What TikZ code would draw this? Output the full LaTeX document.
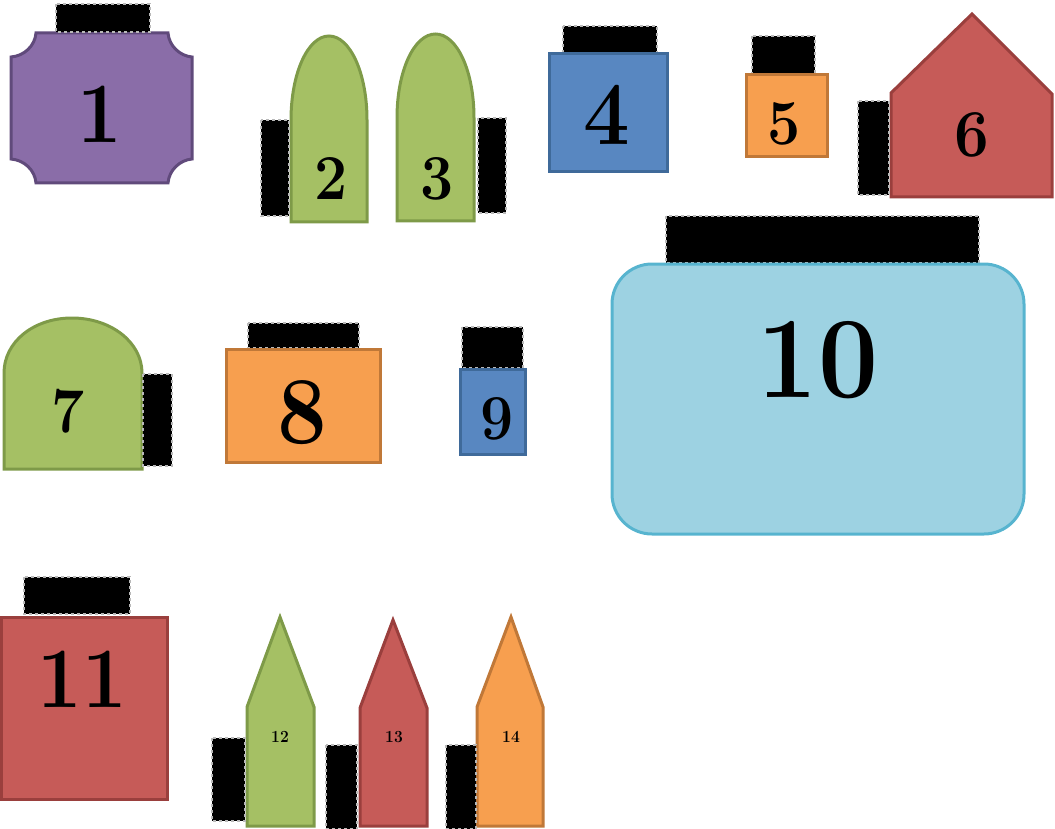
\documentclass[tikz,border=0pt]{standalone}
\newcommand\lblsize[1]{\fontsize{#1}{#1}\selectfont}
\newcommand\narrow[1]{\scalebox{0.92}[1]{#1}}
\definecolor{purpfill}{HTML}{8A6DA8}
\definecolor{purpdraw}{HTML}{604A7B}
\definecolor{grnfill}{HTML}{A5C064}
\definecolor{grndraw}{HTML}{7E9A48}
\definecolor{bluefill}{HTML}{5887C1}
\definecolor{bluedraw}{HTML}{3F6A9A}
\definecolor{orgfill}{HTML}{F79F4F}
\definecolor{orgdraw}{HTML}{C07838}
\definecolor{redfill}{HTML}{C65B58}
\definecolor{reddraw}{HTML}{9A3F3D}
\definecolor{lbfill}{HTML}{9DD2E2}
\definecolor{lbdraw}{HTML}{57B4CF}
\tikzset{
  shapebase/.style={line width=3pt, line join=miter},
  purpshape/.style={shapebase, fill=purpfill, draw=purpdraw},
  grnshape/.style={shapebase, fill=grnfill, draw=grndraw},
  blueshape/.style={shapebase, fill=bluefill, draw=bluedraw},
  orgshape/.style={shapebase, fill=orgfill, draw=orgdraw},
  redshape/.style={shapebase, fill=redfill, draw=reddraw},
  lbshape/.style={shapebase, fill=lbfill, draw=lbdraw},
  blackbox/.style={fill=black, draw=gray!55, line width=1.5pt, dash pattern=on 3pt off 3pt},
  lbl/.style={inner sep=0pt, text=black}
}
\begin{document}
\begin{tikzpicture}[x=1pt,y=-1pt]
\useasboundingbox (0,0) rectangle (1055,829);
% shape 1
\path[purpshape] (36,33) -- (168,33) .. controls (169,46) and (180,56) .. (192,57)
  -- (192,159) .. controls (180,160) and (169,170) .. (168,183)
  -- (36,183) .. controls (35,170) and (24,160) .. (11,159)
  -- (11,57) .. controls (24,56) and (35,46) .. (36,33) -- cycle;
\path[blackbox] (56,4) rectangle (150,32);
\node[lbl, font=\bfseries\lblsize{86}] (n1) at (100,114) {\narrow{1}};
% shape 2
\path[grnshape] (291,222) -- (291,120) .. controls (291,73) and (308,36) .. (329,36)
  .. controls (350,36) and (367,73) .. (367,120) -- (367,222) -- cycle;
\path[blackbox] (261,120) rectangle (289,216);
\node[lbl, font=\bfseries\lblsize{64}] (n2) at (331,179) {\narrow{2}};
% shape 3
\path[grnshape] (397,221) -- (397,118) .. controls (397,71) and (414,34) .. (435.5,34)
  .. controls (457,34) and (474,71) .. (474,118) -- (474,221) -- cycle;
\path[blackbox] (478,118) rectangle (506,213);
\node[lbl, font=\bfseries\lblsize{64}] (n3) at (437,179) {\narrow{3}};
% shape 4
\path[blackbox] (563,26) rectangle (657,53);
\path[blueshape] (549,54) rectangle (667,172);
\node[lbl, font=\bfseries\lblsize{90}] (n4) at (607,115) {\narrow{4}};
% shape 5
\path[blackbox] (752,36) rectangle (815,74);
\path[orgshape] (746,75) rectangle (827,157);
\node[lbl, font=\bfseries\lblsize{64}] (n5) at (784,124) {\narrow{5}};
% shape 6
\path[redshape] (891,197) -- (891,93) -- (972,14) -- (1052,94) -- (1052,197) -- cycle;
\path[blackbox] (858,101) rectangle (889,195);
\node[lbl, font=\bfseries\lblsize{67}] (n6) at (972,135) {\narrow{6}};
% shape 10
\path[blackbox] (666,216) rectangle (979,263);
\path[lbshape, rounded corners=40pt] (612,264) rectangle (1024,534);
\node[lbl, font=\bfseries\lblsize{116}] (n10) at (818,360) {\narrow{10}};
% shape 7
\path[grnshape] (4,469) -- (4,373) .. controls (4,342) and (33.5,318) .. (72,318)
  .. controls (110.5,318) and (142,342) .. (142,373) -- (142,469) -- cycle;
\path[blackbox] (143,374) rectangle (172,466);
\node[lbl, font=\bfseries\lblsize{64}] (n7) at (68,411) {\narrow{7}};
% shape 8
\path[blackbox] (248,323) rectangle (359,348);
\path[orgshape] (226,349) rectangle (380,462);
\node[lbl, font=\bfseries\lblsize{96}] (n8) at (302,413) {\narrow{8}};
% shape 9
\path[blackbox] (462,327) rectangle (523,368);
\path[blueshape] (460,369) rectangle (525,454);
\node[lbl, font=\bfseries\lblsize{64}] (n9) at (497,419) {\narrow{9}};
% shape 11
\path[blackbox] (24,577) rectangle (130,614);
\path[redshape] (1.5,617) rectangle (167,799);
\node[lbl, font=\bfseries\lblsize{86}] (n11) at (82,679) {\narrow{11}};
% shape 12
\path[grnshape] (247,826) -- (247,707) -- (280,617) -- (314,707) -- (314,826) -- cycle;
\path[blackbox] (212,738) rectangle (245,821);
\node[lbl, font=\bfseries\lblsize{17}] (n12) at (280,737) {\narrow{12}};
% shape 13
\path[redshape] (360,826) -- (360,708) -- (393,620) -- (427,708) -- (427,826) -- cycle;
\path[blackbox] (326,745) rectangle (357,829);
\node[lbl, font=\bfseries\lblsize{17}] (n13) at (394,737) {\narrow{13}};
% shape 14
\path[orgshape] (477,826) -- (477,707) -- (511,617) -- (543,707) -- (543,826) -- cycle;
\path[blackbox] (446,745) rectangle (476,829);
\node[lbl, font=\bfseries\lblsize{17}] (n14) at (511,737) {\narrow{14}};
\end{tikzpicture}
\end{document}
